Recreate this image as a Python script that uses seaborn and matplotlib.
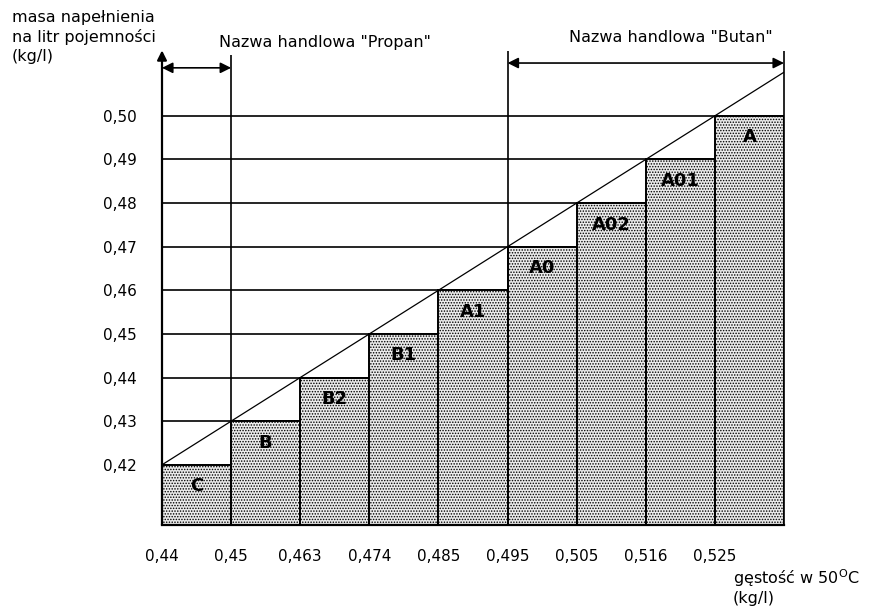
import matplotlib
matplotlib.use("Agg")
import matplotlib.pyplot as plt
import seaborn as sns
import numpy as np
import pandas as pd

# ---- data ----
classes = ["C", "B", "B2", "B1", "A1", "A0", "A02", "A01", "A"]
fill_mass = [0.42, 0.43, 0.44, 0.45, 0.46, 0.47, 0.48, 0.49, 0.50]
density_labels = ["0,44", "0,45", "0,463", "0,474", "0,485", "0,495", "0,505", "0,516", "0,525"]
y_ticks = [0.42, 0.43, 0.44, 0.45, 0.46, 0.47, 0.48, 0.49, 0.50]
y_tick_labels = ["0,42", "0,43", "0,44", "0,45", "0,46", "0,47", "0,48", "0,49", "0,50"]
line_end_mass = 0.51

sns.set_theme(style="white")
plt.rcParams["font.family"] = ["DejaVu Sans"]
plt.rcParams["text.color"] = "black"
plt.rcParams["xtick.color"] = "black"
plt.rcParams["ytick.color"] = "black"
plt.rcParams["hatch.color"] = "#222222"
plt.rcParams["hatch.linewidth"] = 0.7

df = pd.DataFrame({"klasa": classes, "masa": fill_mass})

fig = plt.figure(figsize=(8.79, 6.08), dpi=100)
ax = fig.add_axes([162 / 879, 83 / 608, 622 / 879, (525 - 48.2) / 608])

sns.barplot(data=df, x="klasa", y="masa", order=classes, width=1.0,
            color="#ebebeb", edgecolor="black", linewidth=1.4, ax=ax,
            zorder=1, saturation=1)
for p in ax.patches:
    p.set_hatch("......")

n = len(classes)
x0, x1 = -0.5, n - 0.5
ax.set_xlim(x0, x1)
ax.set_ylim(0.4062, 0.5155)

# horizontal reference lines (hidden behind bars)
ax.hlines(y_ticks, x0, x1, color="black", lw=1.2, zorder=0.8)

# diagonal line through the top-left corners
ax.plot([x0, x1], [fill_mass[0], line_end_mass], color="black", lw=0.9, zorder=3)

# vertical range lines
ax.vlines([0.5], 0.4062, 0.5140, color="black", lw=1.2, zorder=3, clip_on=False)
ax.vlines([4.5, 8.5], 0.4062, 0.5148, color="black", lw=1.2, zorder=3, clip_on=False)

# range arrows
arrow_kw = dict(arrowstyle="<|-|>", color="black", lw=1.2, mutation_scale=16,
                shrinkA=0, shrinkB=0)
ax.annotate("", xy=(0.5, 0.5110), xytext=(x0, 0.5110), arrowprops=arrow_kw,
            annotation_clip=False)
ax.annotate("", xy=(8.5, 0.5121), xytext=(4.5, 0.5121), arrowprops=arrow_kw,
            annotation_clip=False)

# y-axis with arrow
ax.annotate("", xy=(x0, 0.5150), xytext=(x0, 0.4062),
            arrowprops=dict(arrowstyle="-|>", color="black", lw=1.6,
                            mutation_scale=14, shrinkA=0, shrinkB=0),
            annotation_clip=False)

# bar labels
for i, (c, m) in enumerate(zip(classes, fill_mass)):
    ax.annotate(c, (i, m), xytext=(0, -9), textcoords="offset points",
                ha="center", va="top", fontsize=13, fontweight="bold",
                color="black", zorder=4)

# ticks
ax.set_xticks(np.arange(n) - 0.5)
ax.set_xticklabels(density_labels, fontsize=11)
ax.set_yticks(y_ticks)
ax.set_yticklabels(y_tick_labels, fontsize=11)
ax.tick_params(axis="x", length=0, pad=17, labelcolor="black")
ax.tick_params(axis="y", length=0, pad=18, labelcolor="black")
ax.set_xlabel("")
ax.set_ylabel("")

for s in ["top", "right", "left"]:
    ax.spines[s].set_visible(False)
ax.spines["bottom"].set_color("black")
ax.spines["bottom"].set_linewidth(1.6)

# texts
fig.text(12 / 879, 1 - 10 / 608, "masa napełnienia\nna litr pojemności\n(kg/l)",
         ha="left", va="top", fontsize=11.5, linespacing=1.3, color="black")
fig.text(325 / 879, 1 - 43 / 608, 'Nazwa handlowa "Propan"', ha="center", va="center",
         fontsize=11.5, color="black")
fig.text(671 / 879, 1 - 38 / 608, 'Nazwa handlowa "Butan"', ha="center", va="center",
         fontsize=11.5, color="black")
fig.text(733 / 879, 1 - 578 / 608, "gęstość w 50$^{\\mathrm{O}}$C", ha="left", va="center",
         fontsize=11.5, color="black")
fig.text(733 / 879, 1 - 598 / 608, "(kg/l)", ha="left", va="center", fontsize=11.5,
         color="black")

fig.savefig("out.png", dpi=100)
